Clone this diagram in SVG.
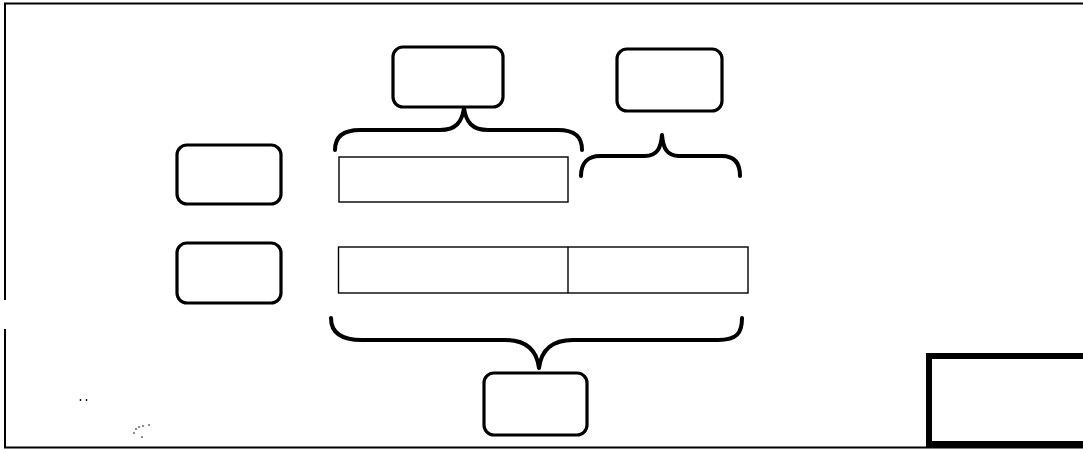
<svg xmlns="http://www.w3.org/2000/svg" width="1083" height="450" viewBox="0 0 1083 450">
<style>
.frame{fill:none;stroke:#000;stroke-width:2}
.node{fill:#fff;stroke:#000;stroke-width:3.2}
.bar{fill:#fff;stroke:#000;stroke-width:1.4}
.brace{fill:none;stroke:#000;stroke-width:4;stroke-linecap:round;stroke-linejoin:round}
.heavy{fill:#fff;stroke:#000;stroke-width:6}
</style>
<rect width="1083" height="450" fill="#fff"/>
<g id="frame">
<line class="frame" x1="4" y1="3.5" x2="1083" y2="3.5"/>
<line class="frame" x1="5" y1="3" x2="5" y2="300"/>
<line class="frame" x1="5" y1="329" x2="5" y2="448"/>
<line class="frame" x1="4" y1="447.5" x2="1083" y2="447.5"/>
</g>
<g id="node-top-left"><rect class="node" x="393" y="47" width="110" height="60" rx="10"/></g>
<g id="node-top-right"><rect class="node" x="617" y="49" width="105" height="62" rx="10"/></g>
<g id="node-left-1"><rect class="node" x="177" y="145" width="104" height="59" rx="10"/></g>
<g id="node-left-2"><rect class="node" x="177" y="243" width="104" height="60" rx="10"/></g>
<g id="node-bottom"><rect class="node" x="484" y="373" width="103" height="62" rx="10"/></g>
<g id="bar-1"><rect class="bar" x="339" y="157" width="229" height="45"/></g>
<g id="bar-2">
<rect class="bar" x="338.5" y="247" width="409.5" height="46"/>
<line class="bar" x1="568" y1="247" x2="568" y2="293"/>
</g>
<g id="box-heavy"><rect class="heavy" x="929" y="356" width="160" height="88"/></g>
<g id="connectors">
<path class="brace" d="M335,150 C335,136 344,130 360,130 L440,130 C456,130 462,122 464,108 C466,122 472,130 488,130 L558,130 C574,130 582,136 582,150"/>
<path class="brace" d="M581,176 C581,163 588,156 600,156 L645,156 C657,156 661,148 662,135 C663,148 667,156 679,156 L722,156 C734,156 740,163 740,176"/>
<path class="brace" d="M331,318 C331,333 342,340 362,340 L505,340 C528,340 537,352 539,368 C541,352 550,340 573,340 L718,340 C737,340 742,333 742,318"/>
</g>
<g id="specks" fill="#000">
<circle cx="80.5" cy="400" r="0.9"/>
<circle cx="86.5" cy="400" r="0.9"/>
<circle cx="134" cy="433" r="0.8"/>
<circle cx="136" cy="429" r="0.8"/>
<circle cx="139" cy="427" r="0.8"/>
<circle cx="143" cy="426" r="0.8"/>
<circle cx="149" cy="425" r="0.8"/>
<circle cx="142" cy="437" r="0.8"/>
</g>
</svg>
